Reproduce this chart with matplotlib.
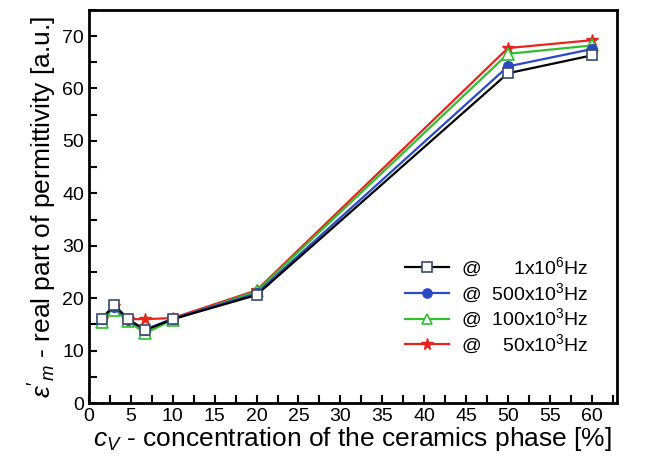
import matplotlib
matplotlib.use("Agg")
import matplotlib.pyplot as plt
from matplotlib.ticker import MultipleLocator

plt.rcParams['font.family'] = ['Liberation Sans', 'DejaVu Sans']
plt.rcParams['mathtext.fontset'] = 'custom'
plt.rcParams['mathtext.rm'] = 'Liberation Sans'
plt.rcParams['mathtext.it'] = 'Liberation Sans:italic'

# --- data ---
conc = [1.5, 3.0, 4.7, 6.7, 10.0, 20.0, 50.0, 60.0]
eps_1MHz = [16.0, 18.7, 16.0, 13.9, 16.0, 20.6, 62.9, 66.3]
eps_500kHz = [16.1, 18.4, 15.8, 14.0, 16.1, 20.9, 64.2, 67.5]
eps_100kHz = [15.5, 17.8, 15.6, 13.3, 15.9, 21.3, 66.6, 68.2]
eps_50kHz = [16.1, 18.5, 16.0, 16.0, 16.2, 21.5, 67.7, 69.2]

labels = ['@      1x10$^6$Hz', '@  500x10$^3$Hz', '@  100x10$^3$Hz', '@    50x10$^3$Hz']

fig = plt.figure(figsize=(6.64, 4.67), dpi=100)
ax = fig.add_axes([0.134, 0.137, 0.795, 0.842])

l4, = ax.plot(conc, eps_50kHz, '-', color='#e8221c', lw=1.6, marker='*', ms=9,
              mfc='#e8221c', mec='#e8221c')
l3, = ax.plot(conc, eps_100kHz, '-', color='#2fbf2f', lw=1.6, marker='^', ms=8,
              mfc='white', mec='#2fbf2f', mew=1.2)
l2, = ax.plot(conc, eps_500kHz, '-', color='#2a49c4', lw=1.6, marker='o', ms=7,
              mfc='#2a49c4', mec='#2a49c4')
l1, = ax.plot(conc, eps_1MHz, '-', color='black', lw=1.6, marker='s', ms=7,
              mfc='white', mec='#3a4a6a', mew=1.2)

ax.set_xlim(0, 63)
ax.set_ylim(0, 75)
ax.xaxis.set_major_locator(MultipleLocator(5))
ax.xaxis.set_minor_locator(MultipleLocator(2.5))
ax.yaxis.set_major_locator(MultipleLocator(10))
ax.yaxis.set_minor_locator(MultipleLocator(5))
ax.tick_params(which='both', direction='in', top=False, right=False, width=1.5,
               labelsize=14)
ax.tick_params(which='major', length=6)
ax.tick_params(which='minor', length=6)
for s in ax.spines.values():
    s.set_linewidth(2)

ax.set_xlabel(r'$c_V$ - concentration of the ceramics phase [%]', fontsize=19, labelpad=0)
ax.set_ylabel(r"$\varepsilon'_{m}$ - real part of permittivity [a.u.]", fontsize=19, labelpad=2)

ax.legend([l1, l2, l3, l4], labels, loc='lower right', bbox_to_anchor=(0.98, 0.075),
          frameon=False, fontsize=14, handlelength=2.3, handletextpad=0.6,
          labelspacing=0.12, markerscale=0.95)

fig.savefig('out.png', dpi=100)
